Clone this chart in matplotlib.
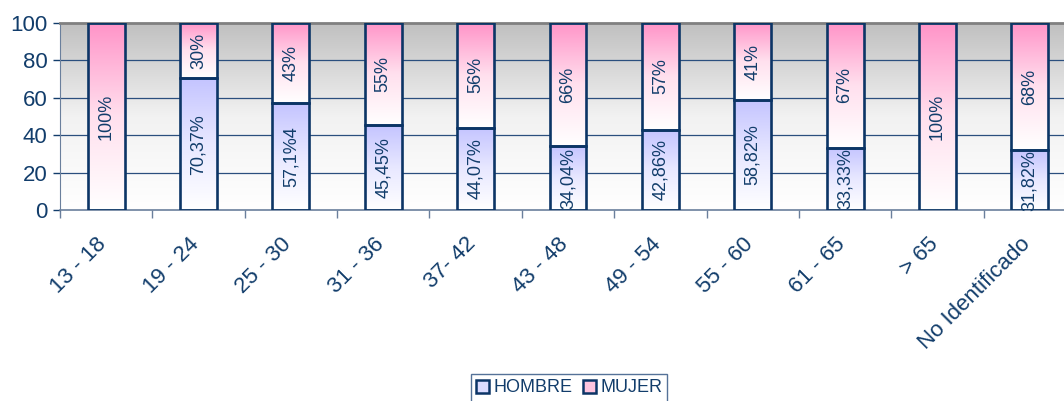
import numpy as np
import matplotlib
matplotlib.use("Agg")
import matplotlib.pyplot as plt
import matplotlib.transforms as mtransforms
from matplotlib.colors import LinearSegmentedColormap
from matplotlib.patches import Rectangle

plt.rcParams['font.family'] = ['Liberation Sans', 'DejaVu Sans']

# data
categories = ["13 - 18", "19 - 24", "25 - 30", "31 - 36", "37- 42", "43 - 48",
              "49 - 54", "55 - 60", "61 - 65", "> 65", "No Identificado"]
hombre = [0, 70.37, 57.14, 45.45, 44.07, 34.04, 42.86, 58.82, 33.33, 0, 31.82]
mujer = [100 - h for h in hombre]
hombre_labels = ["", "70,37%", "57,1%4", "45,45%", "44,07%", "34,04%",
                 "42,86%", "58,82%", "33,33%", "", "31,82%"]
mujer_labels = ["100%", "30%", "43%", "55%", "56%", "66%", "57%", "41%",
                "67%", "100%", "68%"]

navy = '#0c3566'
text_col = '#123d6b'

W, H = 1064, 401
fig = plt.figure(figsize=(W / 100, H / 100), dpi=100)
ax = fig.add_axes([60 / W, 1 - 210 / H, 1016 / W, 187 / H])

n = len(categories)
x = np.arange(n)
ax.set_xlim(-0.5, n - 0.5)
ax.set_ylim(0, 100)

# background gradient: gray at top, white at bottom
grad = np.linspace(0, 1, 256).reshape(-1, 1)
bg_cmap = LinearSegmentedColormap.from_list('bg', ['#ffffff', '#f2f2f2', '#c0c0c0'])
ax.imshow(grad, extent=[-0.5, n - 0.5, 0, 100], origin='lower', aspect='auto',
          cmap=bg_cmap, zorder=0)

for yv in [20, 40, 60, 80]:
    ax.axhline(yv, color='#2b4f7e', lw=0.9, zorder=1)

pink = LinearSegmentedColormap.from_list('pink', ['#ffffff', '#ffe0ee', '#ff94c8'])
blue = LinearSegmentedColormap.from_list('blue', ['#ffffff', '#e8e8ff', '#c4c4ff'])

bw = 0.4


def grad_bar(xc, y0, y1, cmap):
    if y1 - y0 <= 0:
        return
    ax.imshow(grad, extent=[xc - bw / 2, xc + bw / 2, y0, y1], origin='lower',
              aspect='auto', cmap=cmap, zorder=2)
    ax.add_patch(Rectangle((xc - bw / 2, y0), bw, y1 - y0, fill=False,
                           edgecolor=navy, lw=1.9, zorder=3))


for i in range(n):
    grad_bar(x[i], 0, hombre[i], blue)
    grad_bar(x[i], hombre[i], hombre[i] + mujer[i], pink)
    if hombre_labels[i]:
        ax.text(x[i], hombre[i] / 2, hombre_labels[i], rotation=90, ha='center',
                va='center', fontsize=13, color=text_col, zorder=4)
    ax.text(x[i], hombre[i] + mujer[i] / 2, mujer_labels[i], rotation=90,
            ha='center', va='center', fontsize=13, color=text_col, zorder=4)

ax.set_yticks([0, 20, 40, 60, 80, 100])
ax.tick_params(axis='y', labelsize=16, colors=text_col, length=5, width=1,
               direction='out', pad=4)
for t in ax.get_yticklines():
    t.set_color('#6a7f9c')

ax.set_xticks(x)
ax.set_xticklabels(categories, rotation=45, ha='right', va='top',
                   rotation_mode='anchor', fontsize=16, color=text_col)
ax.tick_params(axis='x', length=0, pad=14)
shift = mtransforms.ScaledTranslation(-10 / 100, -4 / 100, fig.dpi_scale_trans)
for lab in ax.get_xticklabels():
    lab.set_transform(lab.get_transform() + shift)
ax.set_xticks(np.arange(-0.5, n, 1), minor=True)
ax.tick_params(axis='x', which='minor', length=6, width=1, color='#6a7f9c',
               direction='out')

ax.spines['top'].set_color('#808080')
ax.spines['top'].set_linewidth(2)
ax.spines['right'].set_visible(False)
ax.spines['left'].set_color('#6a7f9c')
ax.spines['bottom'].set_color('#6a7f9c')
ax.spines['bottom'].set_linewidth(1.2)

handles = [Rectangle((0, 0), 1, 1, facecolor='#dcdcff', edgecolor=navy, lw=1.8),
           Rectangle((0, 0), 1, 1, facecolor='#ffc4de', edgecolor=navy, lw=1.8)]
leg = fig.legend(handles, ['HOMBRE', 'MUJER'], loc='center', ncol=2,
                 bbox_to_anchor=(569 / W, 1 - 388 / H), fontsize=13,
                 frameon=True, fancybox=False, borderpad=0.3,
                 handlelength=0.7, handleheight=0.7, handletextpad=0.25,
                 columnspacing=0.6, borderaxespad=0)
leg.get_frame().set_edgecolor('#2b4f7e')
leg.get_frame().set_linewidth(1)
for t in leg.get_texts():
    t.set_color(text_col)

fig.savefig('out.png', dpi=100)
